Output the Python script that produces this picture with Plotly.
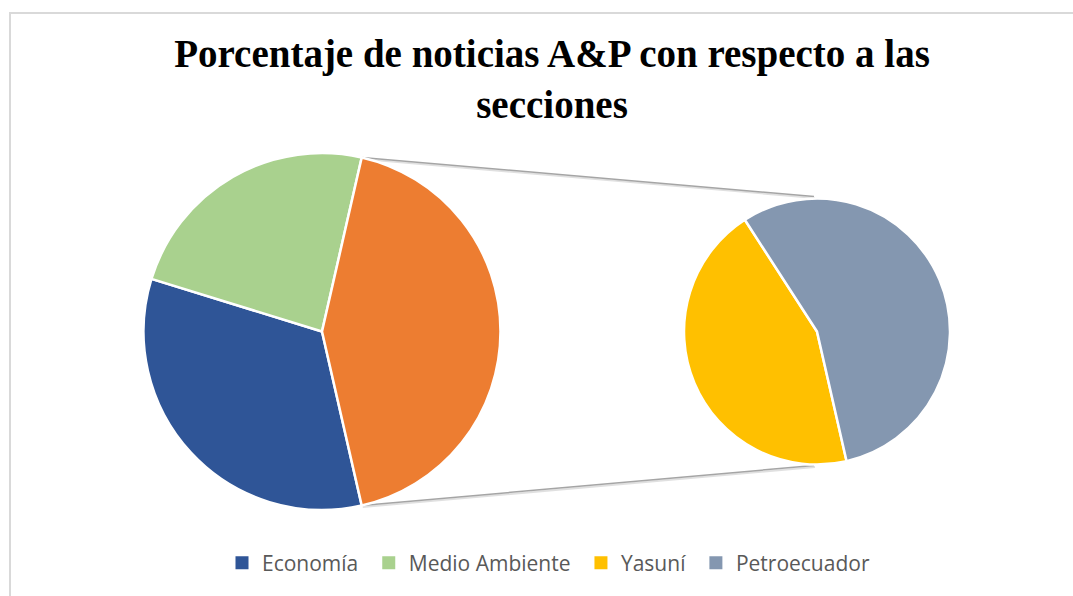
import math
import plotly.graph_objects as go

# ---------------- data ----------------
main_labels = ["Economía", "Medio Ambiente"]
main_values = [7, 5]
sub_labels = ["Yasuní", "Petroecuador"]
sub_values = [4, 5]
other_label = "Otros"

main_colors = ["#2F5597", "#A9D18E"]
other_color = "#ED7D31"
sub_colors = ["#FFC000", "#8497B0"]

title_text = "<b>Porcentaje de noticias A&amp;P con respecto a las<br>secciones</b>"

# ---------------- layout geometry (pixels) ----------------
W, H = 1073, 596
L_CX, L_CY, L_R = 322.0, 331.5, 178.5
R_CX, R_CY, R_R = 817.0, 331.5, 133.0


def px(x, y):
    return x / W, 1 - y / H


def domain(cx, cy, r):
    return dict(x=[(cx - r) / W, (cx + r) / W], y=[1 - (cy + r) / H, 1 - (cy - r) / H])


other_total = sum(sub_values)
left_values = main_values + [other_total]
left_labels = main_labels + [other_label]
total = sum(left_values)
other_frac = other_total / total
# "other" slice centred on 3 o'clock, slices run clockwise
rotation = 90 + 180 * other_frac

fig = go.Figure()

fig.add_trace(go.Pie(
    labels=left_labels, values=left_values, sort=False, direction="clockwise",
    rotation=rotation, domain=domain(L_CX, L_CY, L_R), textinfo="none",
    marker=dict(colors=main_colors + [other_color], line=dict(color="white", width=2.5)),
    showlegend=False, hoverinfo="label+percent",
))

fig.add_trace(go.Pie(
    labels=sub_labels, values=sub_values, sort=False, direction="clockwise",
    rotation=rotation, domain=domain(R_CX, R_CY, R_R), textinfo="none",
    marker=dict(colors=sub_colors, line=dict(color="white", width=2.5)),
    showlegend=False, hoverinfo="label+percent",
))

# legend entries (square swatches)
pad = "\u00a0"
for name, col in zip(main_labels + sub_labels, main_colors + sub_colors):
    fig.add_trace(go.Scatter(
        x=[None], y=[None], mode="markers", name=name + pad,
        marker=dict(symbol="square", size=13, color=col),
    ))

# connector lines from edges of "other" slice to top/bottom of secondary pie
half = other_frac * 180
shapes = []
for ang, ty in [(90 - half, R_CY - R_R - 2), (90 + half, R_CY + R_R + 1)]:
    a = math.radians(ang)
    x0 = L_CX + L_R * math.sin(a)
    y0 = L_CY - L_R * math.cos(a)
    x1, y1 = R_CX - 3, ty
    # soft shadow
    sx0, sy0 = px(x0 + 1, y0 + 1.5)
    sx1, sy1 = px(x1 + 1, y1 + 1.5)
    shapes.append(dict(type="line", xref="paper", yref="paper", x0=sx0, y0=sy0, x1=sx1, y1=sy1,
                       line=dict(color="rgba(0,0,0,0.12)", width=2), layer="below"))
    px0, py0 = px(x0, y0)
    px1, py1 = px(x1, y1)
    shapes.append(dict(type="line", xref="paper", yref="paper", x0=px0, y0=py0, x1=px1, y1=py1,
                       line=dict(color="#A5A5A5", width=1.5), layer="below"))

# chart frame (cropped at right and bottom)
bx0, by0 = px(10, 13)
bx1, by1 = px(W + 20, H + 20)
shapes.append(dict(type="rect", xref="paper", yref="paper", x0=bx0, y0=by1, x1=bx1, y1=by0,
                   line=dict(color="#D9D9D9", width=2), fillcolor="rgba(0,0,0,0)", layer="below"))

fig.update_layout(
    width=W, height=H,
    margin=dict(l=0, r=0, t=0, b=0, pad=0),
    paper_bgcolor="white", plot_bgcolor="white",
    title=dict(text=title_text, x=552 / W, xanchor="center", xref="paper",
               y=1 - 67 / H, yanchor="top", yref="container",
               font=dict(family="Liberation Serif", size=39, color="black")),
    legend=dict(orientation="h", x=551 / W, xanchor="center", y=1 - 563 / H, yanchor="middle",
                font=dict(family="Open Sans", size=21, color="#595959"),
                bgcolor="rgba(0,0,0,0)", itemclick=False, itemdoubleclick=False),
    xaxis=dict(visible=False), yaxis=dict(visible=False),
    shapes=shapes,
)

fig.write_html("out.html", config={"displayModeBar": False},
               post_script="document.body.style.margin='0';document.body.style.padding='0';")
